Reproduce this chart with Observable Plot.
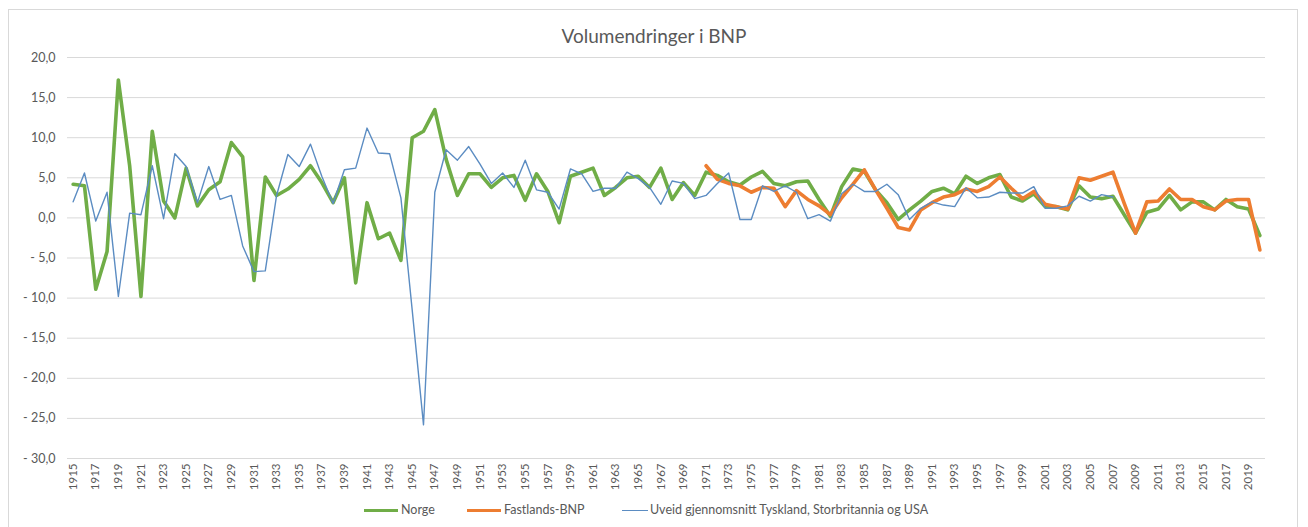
<!DOCTYPE html>
<html>
<head>
<meta charset="utf-8">
<script src="https://cdn.jsdelivr.net/npm/d3@7"></script>
<script src="https://cdn.jsdelivr.net/npm/@observablehq/plot@0.6"></script>
<style>
  html, body { margin: 0; padding: 0; background: #fff; }
  #wrap { position: relative; width: 1308px; height: 527px; overflow: hidden; font-family: Lato, "Open Sans", sans-serif; color: #595959; }
  #frame { position: absolute; left: 8px; top: 9px; width: 1290px; height: 530px; border: 1px solid #d9d9d9; box-sizing: border-box; }
  #title { position: absolute; left: 0; width: 1308px; top: 24px; text-align: center; font-size: 19px; color: #595959; }
  #chart { position: absolute; left: 0; top: 0; }
  .lg { position: absolute; top: 502px; font-size: 12.5px; color: #595959; white-space: nowrap; }
  .sw { position: absolute; height: 0; }
</style>
</head>
<body>
<div id="wrap">
  <div id="frame"></div>
  <div id="chart"></div>
  <div id="title">Volumendringer i BNP</div>
  <div id="legend"></div>
</div>
<script>
const firstYear = 1915;
const years = d3.range(1915, 2021);

const seriesNames = ["Norge", "Fastlands-BNP", "Uveid gjennomsnitt Tyskland, Storbritannia og USA"];
const seriesColors = ["#70AD47", "#ED7D31", "#5B8CC2"];

// Norge 1915-2020
const norge = [
  4.2, 4.0, -8.9, -4.2, 17.2, 6.5, -9.8, 10.8, 2.1, 0.0,
  6.2, 1.5, 3.5, 4.5, 9.4, 7.6, -7.8, 5.1, 2.8, 3.6,
  4.8, 6.5, 4.4, 1.9, 5.0, -8.1, 1.9, -2.6, -1.9, -5.3,
  10.0, 10.8, 13.5, 7.3, 2.8, 5.5, 5.5, 3.8, 5.0, 5.3,
  2.2, 5.5, 3.3, -0.6, 5.2, 5.7, 6.2, 2.8, 3.8, 5.0,
  5.2, 3.8, 6.2, 2.3, 4.4, 2.8, 5.7, 5.3, 4.5, 4.1,
  5.1, 5.8, 4.3, 4.0, 4.5, 4.6, 2.3, 0.2, 3.9, 6.1,
  5.8, 3.5, 1.9, -0.2, 1.0, 2.1, 3.3, 3.7, 3.0, 5.2,
  4.3, 5.0, 5.4, 2.6, 2.1, 3.0, 1.4, 1.4, 1.0, 4.0,
  2.6, 2.4, 2.7, 0.4, -1.9, 0.7, 1.1, 2.8, 1.0, 2.0,
  2.0, 1.0, 2.3, 1.4, 1.1, -2.2
];

// Fastlands-BNP 1971-2020
const fastlandStart = 1971;
const fastland = [
  6.5, 4.8, 4.3, 4.0, 3.2, 3.8, 3.7, 1.4, 3.4, 2.3,
  1.5, 0.4, 2.5, 4.2, 6.0, 3.5, 1.2, -1.2, -1.5, 1.0,
  1.9, 2.6, 2.9, 3.6, 3.3, 3.9, 5.1, 3.7, 2.4, 3.3,
  1.7, 1.4, 1.1, 5.0, 4.7, 5.2, 5.7, 1.8, -1.9, 2.0,
  2.1, 3.6, 2.3, 2.3, 1.4, 1.0, 2.1, 2.3, 2.3, -4.0
];

// Uveid gjennomsnitt 1915-2007
const snitt = [
  2.0, 5.6, -0.4, 3.2, -9.8, 0.6, 0.4, 6.5, -0.1, 8.0,
  6.4, 1.9, 6.4, 2.3, 2.8, -3.5, -6.7, -6.6, 2.8, 7.9,
  6.4, 9.2, 5.2, 1.8, 6.0, 6.2, 11.2, 8.1, 8.0, 2.5,
  -11.5, -25.8, 3.2, 8.5, 7.2, 8.9, 6.7, 4.3, 5.6, 3.8,
  7.2, 3.5, 3.2, 1.1, 6.1, 5.5, 3.3, 3.7, 3.7, 5.7,
  4.9, 3.8, 1.7, 4.6, 4.3, 2.4, 2.8, 4.3, 5.6, -0.2,
  -0.2, 4.0, 3.3, 4.0, 3.2, -0.1, 0.4, -0.4, 3.0, 4.2,
  3.3, 3.3, 4.2, 2.9, -0.2, 1.2, 2.0, 1.6, 1.4, 3.75,
  2.5, 2.6, 3.2, 3.1, 3.1, 3.9, 1.2, 1.2, 1.5, 2.7,
  2.1, 2.9, 2.6
];

const yTicks = [-30, -25, -20, -15, -10, -5, 0, 5, 10, 15, 20];
const xTicks = d3.range(1915, 2020, 2);

const toRows = (arr, start) => arr.map((v, i) => ({year: start + i, v}));
const rowsNorge = toRows(norge, firstYear);
const rowsFast = toRows(fastland, fastlandStart);
const rowsSnitt = toRows(snitt, firstYear);

const fmtY = v => {
  const s = Math.abs(v).toFixed(1).replace(".", ",");
  return v < 0 ? "- " + s : s;
};

const chart = Plot.plot({
  width: 1308,
  height: 500,
  marginTop: 57,
  marginBottom: 42,
  marginLeft: 67,
  marginRight: 43,
  style: {fontFamily: "Lato, 'Open Sans', sans-serif", color: "#595959", background: "transparent"},
  x: {type: "linear", domain: [1914.5, 2020.5]},
  y: {domain: [-30, 20]},
  marks: [
    Plot.gridY(yTicks, {stroke: "#d9d9d9", strokeOpacity: 1, strokeWidth: 1}),
    Plot.axisY(yTicks, {tickSize: 0, tickPadding: 12, tickFormat: fmtY, fontSize: 12.5, fill: "#595959", label: null}),
    Plot.axisX(xTicks, {tickSize: 0, tickPadding: 5, tickRotate: -90, tickFormat: d => String(d), fontSize: 11.5, fill: "#595959", label: null}),
    Plot.line(rowsNorge, {x: "year", y: "v", stroke: seriesColors[0], strokeWidth: 3.6}),
    Plot.line(rowsFast, {x: "year", y: "v", stroke: seriesColors[1], strokeWidth: 3.6}),
    Plot.line(rowsSnitt, {x: "year", y: "v", stroke: seriesColors[2], strokeWidth: 1.4})
  ]
});
document.getElementById("chart").appendChild(chart);

// legend
const legend = document.getElementById("legend");
const lgPos = [
  {sw: 364, w: 34, tx: 401, h: 3.6},
  {sw: 467, w: 34, tx: 504, h: 3.6},
  {sw: 622, w: 26, tx: 650, h: 1.4}
];
seriesNames.forEach((name, i) => {
  const p = lgPos[i];
  const sw = document.createElement("div");
  sw.className = "sw";
  sw.style.left = p.sw + "px";
  sw.style.width = p.w + "px";
  sw.style.top = (511 - p.h / 2) + "px";
  sw.style.borderTop = p.h + "px solid " + seriesColors[i];
  legend.appendChild(sw);
  const t = document.createElement("div");
  t.className = "lg";
  t.style.left = p.tx + "px";
  t.textContent = name;
  legend.appendChild(t);
});
</script>
</body>
</html>
